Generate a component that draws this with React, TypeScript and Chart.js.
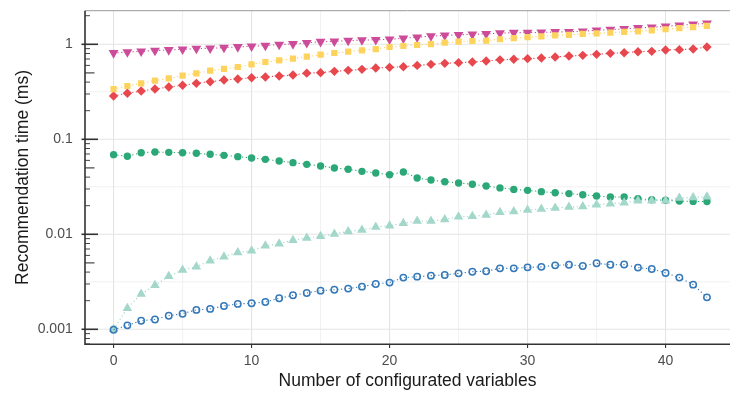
import React, { useEffect, useRef } from 'react';
import { Chart, registerables } from 'chart.js';

Chart.register(...registerables);

const variableCounts = [0, 1, 2, 3, 4, 5, 6, 7, 8, 9, 10, 11, 12, 13, 14, 15, 16, 17, 18, 19, 20, 21, 22, 23, 24, 25, 26, 27, 28, 29, 30, 31, 32, 33, 34, 35, 36, 37, 38, 39, 40, 41, 42, 43];

const magentaSeries = [0.811, 0.83, 0.844, 0.858, 0.872, 0.886, 0.901, 0.908, 0.922, 0.938, 0.953, 0.969, 0.993, 1.008, 1.034, 1.065, 1.075, 1.093, 1.106, 1.117, 1.129, 1.158, 1.185, 1.22, 1.241, 1.261, 1.272, 1.287, 1.313, 1.324, 1.329, 1.334, 1.349, 1.355, 1.371, 1.405, 1.427, 1.451, 1.486, 1.511, 1.547, 1.585, 1.624, 1.664];
const yellowSeries = [0.338, 0.364, 0.388, 0.414, 0.438, 0.468, 0.495, 0.528, 0.55, 0.577, 0.615, 0.651, 0.678, 0.706, 0.74, 0.778, 0.81, 0.836, 0.864, 0.892, 0.937, 0.96, 0.983, 1.007, 1.04, 1.066, 1.083, 1.092, 1.13, 1.16, 1.19, 1.21, 1.24, 1.26, 1.29, 1.3, 1.33, 1.35, 1.37, 1.4, 1.44, 1.48, 1.52, 1.56];
const redSeries = [0.286, 0.305, 0.322, 0.338, 0.355, 0.37, 0.388, 0.404, 0.421, 0.431, 0.445, 0.453, 0.464, 0.475, 0.497, 0.503, 0.519, 0.532, 0.545, 0.563, 0.572, 0.581, 0.6, 0.615, 0.63, 0.641, 0.651, 0.667, 0.686, 0.695, 0.706, 0.717, 0.735, 0.753, 0.765, 0.784, 0.803, 0.816, 0.836, 0.843, 0.871, 0.878, 0.892, 0.937];
const greenSeries = [0.0689, 0.0662, 0.0723, 0.0735, 0.0729, 0.0723, 0.0712, 0.0695, 0.0678, 0.0657, 0.0636, 0.0615, 0.0591, 0.0568, 0.0545, 0.0524, 0.0499, 0.0483, 0.046, 0.0442, 0.0424, 0.0453, 0.0391, 0.0373, 0.0358, 0.0347, 0.0336, 0.0322, 0.0308, 0.0297, 0.029, 0.0281, 0.0274, 0.0268, 0.0261, 0.0253, 0.0247, 0.0247, 0.0237, 0.0231, 0.0228, 0.0224, 0.0222, 0.0221];
const tealSeries = [0.001, 0.00167, 0.00235, 0.0029, 0.00361, 0.00421, 0.00456, 0.00527, 0.00581, 0.00645, 0.00672, 0.00758, 0.00796, 0.00863, 0.00913, 0.00951, 0.01006, 0.01073, 0.01109, 0.0119, 0.01228, 0.01303, 0.01379, 0.01383, 0.01435, 0.01531, 0.01547, 0.01596, 0.01702, 0.01741, 0.01799, 0.01847, 0.01886, 0.01934, 0.01963, 0.0205, 0.02099, 0.02147, 0.02253, 0.02253, 0.02253, 0.02408, 0.02447, 0.02485];
const blueSeries = [0.00099, 0.0011, 0.00123, 0.00127, 0.00139, 0.00146, 0.0016, 0.00164, 0.00176, 0.00185, 0.00188, 0.00194, 0.00212, 0.00228, 0.00241, 0.00255, 0.00261, 0.00268, 0.00281, 0.003, 0.0031, 0.0035, 0.00358, 0.00367, 0.00373, 0.00388, 0.00404, 0.00409, 0.00438, 0.00438, 0.00449, 0.00454, 0.00471, 0.00478, 0.00463, 0.00495, 0.00478, 0.0048, 0.00446, 0.00431, 0.00392, 0.0035, 0.00295, 0.00217];

const xTickValues = [0, 10, 20, 30, 40];
const xMinorGrid = [5, 15, 25, 35];
const yTickValues = [0.001, 0.01, 0.1, 1];
const yTickLabels = ['0.001', '0.01', '0.1', '1'];
const yMinorGrid = [0.00316228, 0.0316228, 0.316228];
const logTickMultipliers = [1, 2, 3, 4, 5, 6, 7, 8, 9];
const logTickDecades = [0.0001, 0.001, 0.01, 0.1, 1];

const xTitle = 'Number of configurated variables';
const yTitle = 'Recommendation time (ms)';
const FONT = "'Liberation Sans', Arial, sans-serif";

const decorPlugin = {
  id: 'decor',
  beforeDatasetsDraw(chart: any) {
    const { ctx, chartArea: a, scales } = chart;
    const x = scales.x;
    const y = scales.y;
    ctx.save();
    ctx.strokeStyle = '#eeeeee';
    ctx.lineWidth = 0.8;
    xMinorGrid.forEach((v) => {
      const px = x.getPixelForValue(v);
      ctx.beginPath(); ctx.moveTo(px, a.top); ctx.lineTo(px, a.bottom); ctx.stroke();
    });
    yMinorGrid.forEach((v) => {
      const py = y.getPixelForValue(v);
      ctx.beginPath(); ctx.moveTo(a.left, py); ctx.lineTo(a.right, py); ctx.stroke();
    });
    ctx.strokeStyle = '#e4e4e4';
    ctx.lineWidth = 1.1;
    xTickValues.forEach((v) => {
      const px = x.getPixelForValue(v);
      ctx.beginPath(); ctx.moveTo(px, a.top); ctx.lineTo(px, a.bottom); ctx.stroke();
    });
    yTickValues.forEach((v) => {
      const py = y.getPixelForValue(v);
      ctx.beginPath(); ctx.moveTo(a.left, py); ctx.lineTo(a.right, py); ctx.stroke();
    });
    ctx.restore();
  },
  afterDatasetsDraw(chart: any) {
    const { ctx, chartArea: a, scales } = chart;
    const x = scales.x;
    const y = scales.y;
    ctx.save();
    ctx.strokeStyle = '#9a9a9a';
    ctx.lineWidth = 1;
    ctx.beginPath(); ctx.moveTo(a.left, a.top); ctx.lineTo(a.right, a.top); ctx.stroke();
    logTickDecades.forEach((d) => {
      logTickMultipliers.forEach((m) => {
        const v = d * m;
        const py = y.getPixelForValue(v);
        if (py < a.top || py > a.bottom) return;
        let len = 5;
        let start = a.left;
        ctx.strokeStyle = '#444444';
        ctx.lineWidth = 1;
        if (m === 1) { len = 13; start = a.left - 3.5; ctx.lineWidth = 1.6; ctx.strokeStyle = '#333333'; }
        else if (m === 5) { len = 9.5; ctx.lineWidth = 1.2; }
        ctx.beginPath(); ctx.moveTo(start, py); ctx.lineTo(a.left + len, py); ctx.stroke();
      });
    });
    ctx.strokeStyle = '#333333';
    ctx.lineWidth = 1.1;
    xTickValues.forEach((v) => {
      const px = x.getPixelForValue(v);
      ctx.beginPath(); ctx.moveTo(px, a.bottom); ctx.lineTo(px, a.bottom + 3.7); ctx.stroke();
    });
    ctx.strokeStyle = '#333333';
    ctx.lineWidth = 1.6;
    ctx.beginPath(); ctx.moveTo(a.left, a.top); ctx.lineTo(a.left, a.bottom); ctx.lineTo(a.right, a.bottom); ctx.stroke();
    ctx.restore();
  },
};

function makeSeries(label: string, values: number[], color: string, style: string, radius: number, order: number, extra: any = {}) {
  return {
    label,
    data: variableCounts.map((v, i) => ({ x: v, y: values[i] })),
    borderColor: color,
    backgroundColor: color,
    borderWidth: 1.1,
    borderDash: [1.2, 2.6],
    showLine: true,
    fill: false,
    tension: 0,
    pointStyle: style,
    pointRadius: radius,
    pointBorderWidth: 0,
    pointBackgroundColor: color,
    pointBorderColor: color,
    order,
    ...extra,
  };
}

export default function App() {
  const canvasRef = useRef<HTMLCanvasElement | null>(null);

  useEffect(() => {
    const canvas = canvasRef.current;
    if (!canvas) return;
    const chart = new Chart(canvas, {
      type: 'line',
      data: {
        datasets: [
          makeSeries('Series 1', magentaSeries, '#CC4C99', 'triangle', 5.7, 6, { rotation: 180 }),
          makeSeries('Series 2', redSeries, '#E8474E', 'rectRot', 4.7, 5),
          makeSeries('Series 3', yellowSeries, '#FDD35E', 'rect', 4.4, 4),
          makeSeries('Series 4', greenSeries, '#2CA878', 'circle', 3.7, 3),
          makeSeries('Series 5', tealSeries, '#A2D7CA', 'triangle', 5.5, 2),
          makeSeries('Series 6', blueSeries, '#3579B8', 'circle', 3.2, 1, {
            pointBackgroundColor: 'rgba(255,255,255,0)',
            pointBorderWidth: 1.5,
          }),
        ],
      },
      options: {
        animation: false,
        responsive: false,
        maintainAspectRatio: false,
        layout: { autoPadding: false, padding: { top: 10.7, right: 0, bottom: 0, left: 0 } },
        plugins: { legend: { display: false }, tooltip: { enabled: false } },
        scales: {
          x: {
            type: 'linear',
            min: -2.07,
            max: 44.67,
            grid: { display: false, drawTicks: true, tickLength: 8 },
            border: { display: false },
            afterBuildTicks: (s: any) => { s.ticks = xTickValues.map((v) => ({ value: v })); },
            afterFit: (s: any) => { s.height = 49.7; s.paddingLeft = 0; s.paddingRight = 0; },
            ticks: {
              autoSkip: false,
              maxRotation: 0,
              padding: 0,
              color: '#4d4d4d',
              font: { family: FONT, size: 14 },
              callback: (v: any) => String(v),
            },
            title: {
              display: true,
              text: xTitle,
              color: '#1a1a1a',
              font: { family: FONT, size: 17.5 },
              padding: { top: 0, bottom: 2.5 },
            },
          },
          y: {
            type: 'logarithmic',
            min: 0.000695,
            max: 2.258,
            grid: { display: false, drawTicks: true, tickLength: 12.3 },
            border: { display: false },
            afterBuildTicks: (s: any) => { s.ticks = yTickValues.map((v) => ({ value: v })); },
            afterFit: (s: any) => { s.width = 85; s.paddingTop = 0; s.paddingBottom = 0; },
            ticks: {
              autoSkip: false,
              padding: 0,
              color: '#4d4d4d',
              font: { family: FONT, size: 14 },
              callback: (_v: any, i: number) => yTickLabels[i],
            },
            title: {
              display: true,
              text: yTitle,
              color: '#1a1a1a',
              font: { family: FONT, size: 17.5 },
              padding: { top: 12.5, bottom: 0 },
            },
          },
        },
      } as any,
      plugins: [decorPlugin],
    });
    return () => chart.destroy();
  }, []);

  return (
    <div style={{ position: 'absolute', left: 0, top: 0, width: 730, height: 394, background: '#ffffff' }}>
      <canvas ref={canvasRef} width={730} height={394} style={{ display: 'block', width: 730, height: 394 }} />
    </div>
  );
}
